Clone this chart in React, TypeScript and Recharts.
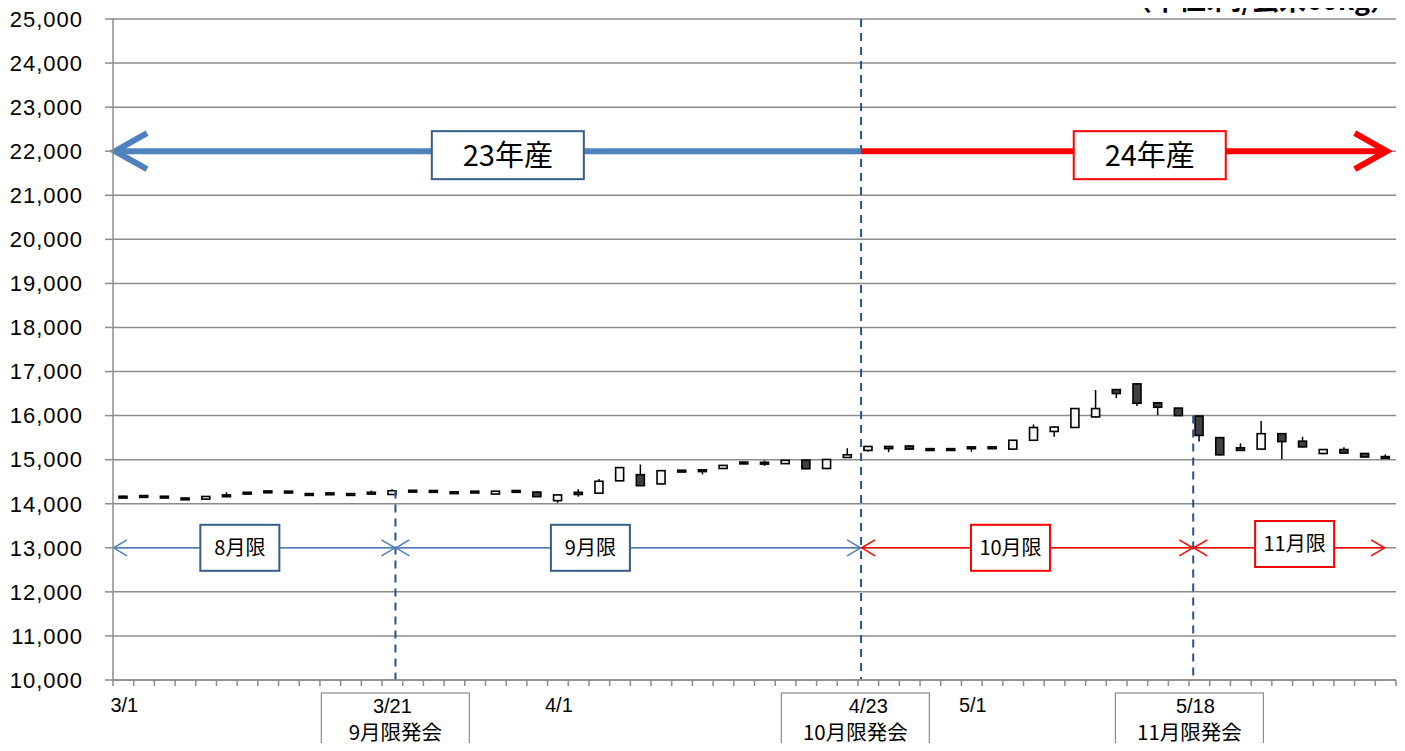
import React from 'react';
import { ComposedChart, Bar, XAxis, YAxis, CartesianGrid, ReferenceLine, ReferenceDot } from 'recharts';

const dates = [
  '3/1','3/2','3/5','3/6','3/7','3/8','3/9','3/12','3/13','3/14','3/15','3/16','3/19','3/21','3/22','3/23','3/26','3/27','3/28','3/29','3/30',
  '4/2','4/3','4/4','4/5','4/6','4/9','4/10','4/11','4/12','4/13','4/16','4/17','4/18','4/19','4/20','4/23','4/24','4/25','4/26','4/27',
  '5/1','5/2','5/7','5/8','5/9','5/10','5/11','5/14','5/15','5/16','5/17','5/18','5/21','5/22','5/23','5/24','5/25','5/28','5/29','5/30','5/31',
];
const opens = [
  14170,14185,14170,14130,14105,14200,14260,14290,14285,14230,14245,14230,14260,14210,14305,14300,14270,14285,14220,14300,14265,
  14070,14260,14240,14520,14660,14450,14760,14770,14800,14945,14940,14910,14990,14800,15050,15210,15300,15310,15250,15250,
  15290,15290,15240,15440,15640,15730,15970,16590,16720,16290,16170,15990,15500,15270,15240,15590,15420,15140,15230,15140,15070,
];
const highs = [
  14180,14190,14175,14135,14170,14260,14265,14295,14290,14235,14250,14235,14300,14330,14310,14305,14275,14290,14290,14305,14275,
  14205,14330,14560,14830,14890,14755,14765,14775,14880,14955,14980,14995,14995,15015,15260,15310,15310,15330,15255,15255,
  15295,15295,15450,15800,15750,16170,16580,16600,16730,16300,16180,16000,15510,15370,15880,15600,15520,15235,15280,15145,15120,
];
const lows = [
  14140,14160,14145,14105,14100,14170,14240,14255,14230,14180,14225,14180,14235,14200,14285,14280,14250,14260,14215,14280,14150,
  14020,14160,14235,14515,14400,14440,14740,14665,14795,14900,14860,14905,14785,14785,15040,15180,15170,15220,15230,15230,
  15180,15270,15220,15430,15520,15720,15960,16400,16220,16010,15995,15410,15100,15200,15230,15010,15280,15125,15140,15050,15045,
];
const closes = [
  14150,14165,14150,14115,14165,14180,14245,14260,14260,14210,14230,14210,14240,14295,14290,14285,14255,14265,14285,14285,14160,
  14200,14210,14510,14820,14410,14750,14745,14755,14870,14915,14910,14985,14795,15005,15110,15300,15250,15240,15235,15235,
  15270,15275,15440,15730,15740,16160,16160,16500,16280,16190,16000,15550,15110,15210,15590,15410,15290,15230,15150,15060,15055,
];

const yTicks = [10000,11000,12000,13000,14000,15000,16000,17000,18000,19000,20000,21000,22000,23000,24000,25000];
const plainTickLabels: Record<number, string> = { 0: '3/1', 21: '4/1', 41: '5/1' };
const launchDates = [
  { i: 13, date: '3/21', text: '9月限発会', boxShift: 3, dateShift: 0 },
  { i: 36, date: '4/23', text: '10月限発会', boxShift: -13, dateShift: 0 },
  { i: 52, date: '5/18', text: '11月限発会', boxShift: -10, dateShift: -4 },
];
// boundaries of contract periods (fractional category positions)
const splitA = 13.15; // 3/21
const splitB = 35.65; // 4/23
const splitC = 51.7;  // 5/18
const contractLabels = [
  { x: 5.63, y: 13000, text: '8月限', color: '#385d8a' },
  { x: 22.57, y: 13000, text: '9月限', color: '#385d8a' },
  { x: 42.87, y: 13000, text: '10月限', color: '#ff0000' },
  { x: 56.6, y: 13086, text: '11月限', color: '#ff0000' },
];
const cropLabels = [
  { x: 18.58, y: 21910, text: '23年産', color: '#385d8a' },
  { x: 49.6, y: 21910, text: '24年産', color: '#ff0000' },
];

const data = dates.map((d, i) => ({
  i,
  date: d,
  open: opens[i],
  high: highs[i],
  low: lows[i],
  close: closes[i],
  range: [lows[i], highs[i]],
}));

const xTicks: number[] = [];
for (let k = 0; k <= dates.length; k++) xTicks.push(k - 0.5);
Object.keys(plainTickLabels).forEach((k) => xTicks.push(Number(k)));
launchDates.forEach((l) => xTicks.push(l.i));

const FONT = '"Liberation Sans", "Noto Sans CJK JP", sans-serif';
const JFONT = '"Noto Sans CJK JP", "Liberation Sans", sans-serif';
const BLUE = '#4f81bd';
const RED = '#ff0000';
const DASH = '#2a5288';
const GRID = '#8c8c8c';

const Candle = (props: any) => {
  const { x, y, width, height, payload } = props;
  const { open, close, high, low } = payload;
  const top0 = Math.min(y, y + height);
  const h = Math.abs(height);
  const cx = x + width / 2;
  const k = high > low ? h / (high - low) : 0;
  const yOf = (v: number) => top0 + (high - v) * k;
  const bt = yOf(Math.max(open, close));
  const bb = yOf(Math.min(open, close));
  const up = close >= open;
  const bw = 8;
  const bh = Math.max(bb - bt, 1.8);
  return (
    <g>
      <line x1={cx} x2={cx} y1={top0} y2={top0 + h} stroke="#000" strokeWidth={1.5} />
      <rect x={cx - bw / 2} y={bt} width={bw} height={bh} fill={up ? '#f7f7f7' : '#404040'} stroke="#000" strokeWidth={1.6} />
    </g>
  );
};

const XTick = (props: any) => {
  const { x, y, payload } = props;
  const v = payload.value as number;
  if (!Number.isInteger(v)) {
    return <line x1={x} x2={x} y1={y} y2={y + 6} stroke={GRID} strokeWidth={1.5} />;
  }
  if (plainTickLabels[v]) {
    return (
      <text x={x + 1} y={y + 32} textAnchor="middle" fontSize={20} fontFamily={FONT} fill="#000">
        {plainTickLabels[v]}
      </text>
    );
  }
  const l = launchDates.find((d) => d.i === v);
  if (l) {
    const bx = x + l.boxShift;
    return (
      <g>
        <rect x={bx - 74} y={y + 13} width={148} height={80} fill="#fff" stroke={GRID} strokeWidth={1.2} />
        <text x={x + l.dateShift} y={y + 33} textAnchor="middle" fontSize={20} fontFamily={FONT} fill="#000">{l.date}</text>
        <text x={bx} y={y + 60} textAnchor="middle" fontSize={20.5} fontFamily={JFONT} fill="#000">{l.text}</text>
      </g>
    );
  }
  return null;
};

const arrowShape = (color: string, sw: number, head: number, half: number, left: boolean, right: boolean) => (p: any) => {
  const { x1, y1, x2, y2 } = p;
  return (
    <g>
      <line x1={left ? x1 + sw / 2 : x1} y1={y1} x2={right ? x2 - sw / 2 : x2} y2={y2} stroke={color} strokeWidth={sw} />
      {left && (
        <polyline points={`${x1 + head},${y1 - half} ${x1 + sw / 3},${y1} ${x1 + head},${y1 + half}`} fill="none" stroke={color} strokeWidth={sw} />
      )}
      {right && (
        <polyline points={`${x2 - head},${y2 - half} ${x2 - sw / 3},${y2} ${x2 - head},${y2 + half}`} fill="none" stroke={color} strokeWidth={sw} />
      )}
    </g>
  );
};

const boxShape = (text: string, color: string, w: number, h: number, fs: number, sw: number) => (p: any) => {
  const { cx, cy } = p;
  return (
    <g>
      <rect x={cx - w / 2} y={cy - h / 2} width={w} height={h} fill="#fff" stroke={color} strokeWidth={sw} />
      <text x={cx} y={cy + fs * 0.36} textAnchor="middle" fontSize={fs} fontFamily={JFONT} fill="#000">{text}</text>
    </g>
  );
};

const App = () => (
  <div style={{ margin: -8, width: 1405, height: 751, overflow: 'hidden', background: '#fff' }}>
    <ComposedChart width={1405} height={751} data={data} margin={{ top: 19, right: 9, bottom: 0, left: 0 }}>
      <CartesianGrid horizontal vertical={false} stroke={GRID} strokeWidth={1.5} />
      <XAxis
        dataKey="i"
        type="number"
        domain={[-0.5, dates.length - 0.5]}
        ticks={xTicks}
        interval={0}
        height={71}
        tickSize={0}
        tickMargin={0}
        tickLine={false}
        axisLine={{ stroke: GRID, strokeWidth: 1.5 }}
        tick={<XTick />}
        allowDataOverflow
      />
      <YAxis
        type="number"
        domain={[10000, 25000]}
        ticks={yTicks}
        interval={0}
        width={113}
        tickSize={8}
        tickMargin={22}
        tickLine={{ stroke: GRID, strokeWidth: 1.5 }}
        axisLine={{ stroke: GRID, strokeWidth: 1.5 }}
        tick={{ fill: '#000', fontSize: 22, fontFamily: FONT, letterSpacing: 1 }}
        tickFormatter={(v: number) => v.toLocaleString('en-US')}
        allowDataOverflow
      />
      <Bar dataKey="range" barSize={8} shape={<Candle />} isAnimationActive={false} />

      {/* vertical dashed separators */}
      <ReferenceLine segment={[{ x: splitA, y: 14300 }, { x: splitA, y: 10000 }]} stroke={DASH} strokeWidth={2} strokeDasharray="8 6" />
      <ReferenceLine segment={[{ x: splitB, y: 25000 }, { x: splitB, y: 10000 }]} stroke={DASH} strokeWidth={2} strokeDasharray="8 6" />
      <ReferenceLine segment={[{ x: splitC, y: 16000 }, { x: splitC, y: 10000 }]} stroke={DASH} strokeWidth={2} strokeDasharray="8 6" />

      {/* crop-year arrows */}
      <ReferenceLine segment={[{ x: -0.5, y: 22000 }, { x: splitB, y: 22000 }]} shape={arrowShape(BLUE, 6, 34, 18, true, false)} />
      <ReferenceLine segment={[{ x: splitB, y: 22000 }, { x: 61.15, y: 22000 }]} shape={arrowShape(RED, 6, 34, 18, false, true)} />

      {/* contract-month arrows */}
      <ReferenceLine segment={[{ x: -0.5, y: 13000 }, { x: splitA, y: 13000 }]} shape={arrowShape(BLUE, 1.5, 14, 8, true, true)} />
      <ReferenceLine segment={[{ x: splitA, y: 13000 }, { x: splitB, y: 13000 }]} shape={arrowShape(BLUE, 1.5, 14, 8, true, true)} />
      <ReferenceLine segment={[{ x: splitB, y: 13000 }, { x: splitC, y: 13000 }]} shape={arrowShape(RED, 1.5, 14, 8, true, true)} />
      <ReferenceLine segment={[{ x: splitC, y: 13000 }, { x: 60.97, y: 13000 }]} shape={arrowShape(RED, 1.5, 14, 8, true, true)} />

      {cropLabels.map((c) => (
        <ReferenceDot key={c.text} x={c.x} y={c.y} r={1} shape={boxShape(c.text, c.color, 152, 48, 29, 2)} />
      ))}
      {contractLabels.map((c) => (
        <ReferenceDot key={c.text} x={c.x} y={c.y} r={1} shape={boxShape(c.text, c.color, 79, 46, 20, 2)} />
      ))}

      <text x={1397} y={10} textAnchor="end" fontSize={27} fontWeight="bold" fontFamily={JFONT} fill="#000">（単位:円/玄米60kg）</text>
    </ComposedChart>
  </div>
);

export default App;
